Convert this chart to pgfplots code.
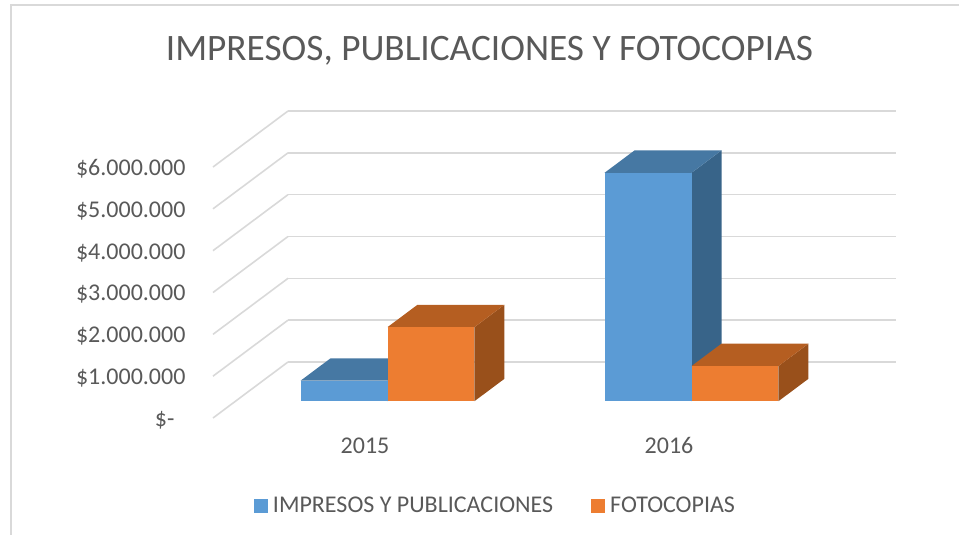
\documentclass[border=0pt]{standalone}
\usepackage{fontspec}
\setmainfont{Carlito}
\usepackage{pgfplots}
\pgfplotsset{compat=1.18}
\definecolor{gridc}{HTML}{D9D9D9}
\definecolor{txt}{HTML}{595959}
\definecolor{bF}{HTML}{5B9BD5}
\definecolor{bT}{HTML}{4678A3}
\definecolor{bS}{HTML}{386489}
\definecolor{oF}{HTML}{ED7D31}
\definecolor{oT}{HTML}{B55E21}
\definecolor{oS}{HTML}{99501B}
% one box: left, right, value, front/top/side colours
\newcommand{\barbox}[6]{%
  \addplot3[forget plot,draw=none,fill=#6] coordinates {(#2,0.3,0) (#2,0.7,0) (#2,0.7,#3) (#2,0.3,#3)};
  \addplot3[forget plot,draw=none,fill=#5] coordinates {(#1,0.3,#3) (#2,0.3,#3) (#2,0.7,#3) (#1,0.7,#3)};
  \addplot3[forget plot,draw=none,fill=#4] coordinates {(#1,0.3,0) (#2,0.3,0) (#2,0.3,#3) (#1,0.3,#3)};
}
\begin{document}
\begin{tikzpicture}[x=1pt,y=1pt]
\useasboundingbox (0,0) rectangle (959,535);
\draw[gridc,line width=1.6pt] (11,0) -- (11,530) -- (959,530);
\begin{axis}[
  at={(365pt,117pt)},anchor=origin,
  x={(304pt,0pt)},y={(75pt,56pt)},z={(0pt,41.83pt)},
  xmin=-0.5,xmax=1.5,ymin=0,ymax=1,zmin=0,zmax=6,
  clip=false,
  axis line style={draw=none},
  major tick length=0pt,
  xtick={0,1},xticklabels={2015,2016},
  ytick=\empty,
  ztick={0,1,2,3,4,5,6},
  zticklabels={\$-\rule{11pt}{0pt},\$1.000.000,\$2.000.000,\$3.000.000,\$4.000.000,\$5.000.000,\$6.000.000},
  zmajorgrids=true,
  grid style={gridc,line width=1.6pt},
  tick label style={font=\fontsize{24}{24}\selectfont,text=txt},
  z tick label style={anchor=east,xshift=-24pt,yshift=-2pt},
  x tick label style={anchor=north,yshift=-16pt},
  legend columns=2,
  legend style={draw=none,fill=none,font=\fontsize{24}{24}\selectfont,text=txt,
    at={(axis description cs:0.4136,-0.286)},anchor=center,
    /tikz/every even column/.append style={column sep=36pt},
    /tikz/every odd column/.append style={column sep=3pt}},
  legend image code/.code={\fill[#1] (0pt,-7pt) rectangle (14pt,7pt);},
]
\barbox{-0.286}{0}{0.49}{bF}{bT}{bS}
\barbox{0}{0.286}{1.77}{oF}{oT}{oS}
\barbox{0.714}{1}{5.46}{bF}{bT}{bS}
\barbox{1}{1.286}{0.84}{oF}{oT}{oS}
\addlegendimage{fill=bF,draw=none}
\addlegendentry{IMPRESOS Y PUBLICACIONES}
\addlegendimage{fill=oF,draw=none}
\addlegendentry{FOTOCOPIAS}
\end{axis}
\node[anchor=base,text=txt,font=\fontsize{37.3}{37.3}\selectfont] at (489.5,474) {IMPRESOS, PUBLICACIONES Y FOTOCOPIAS};
\end{tikzpicture}
\end{document}
